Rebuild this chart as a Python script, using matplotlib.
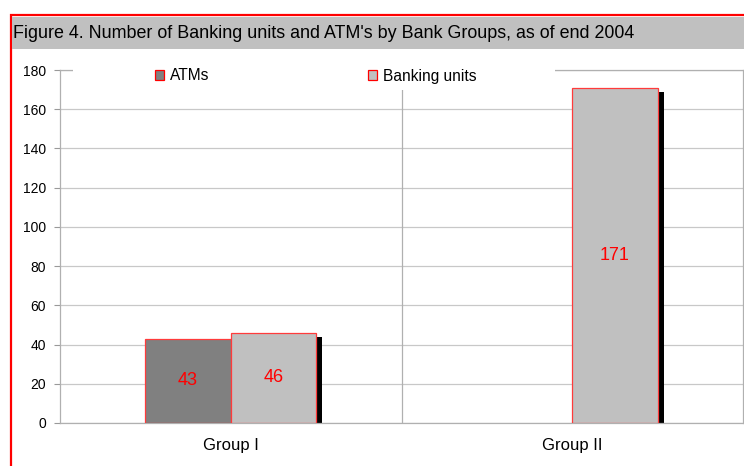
import matplotlib.pyplot as plt
import matplotlib.patches as mpatches
import numpy as np

plt.rcParams['font.family'] = ['Liberation Sans', 'DejaVu Sans']

# data
groups = ['Group I', 'Group II']
atms = [43, 0]
banking_units = [46, 171]
yticks = np.arange(0, 181, 20)

W, H = 744, 466
fig = plt.figure(figsize=(W / 100, H / 100), dpi=100)

# red outer frame and grey title band
fig.patches.append(mpatches.Rectangle((11 / W, -0.1), 1.2, (H - 15) / H + 0.1,
                                      transform=fig.transFigure, fill=False,
                                      edgecolor='#ff0000', linewidth=1.6))
fig.patches.append(mpatches.Rectangle((12 / W, (H - 49) / H), 1.0, 32 / H,
                                      transform=fig.transFigure, facecolor='#c0c0c0',
                                      edgecolor='none'))
fig.text(13 / W, (H - 33) / H, "Figure 4. Number of Banking units and ATM's by Bank Groups, as of end 2004",
         fontsize=12.9, va='center', ha='left', color='#000000')

ax = fig.add_axes([60 / W, (H - 423) / H, 683 / W, 353 / H])
x = np.arange(len(groups))
w = 0.25

ax.set_xlim(-0.5, len(groups) - 0.5)
ax.set_ylim(0, 180)

# drop shadows behind the bars
sdx, sdy = 0.0176, 2.3
ax.bar(x - w / 2 + sdx, np.maximum(np.array(atms) - sdy, 0), w, color='black', zorder=2)
ax.bar(x + w / 2 + sdx, np.maximum(np.array(banking_units) - sdy, 0), w, color='black', zorder=2)

b1 = ax.bar(x - w / 2, atms, w, color='#808080', edgecolor='#ff3b3b', linewidth=0.9,
            label='ATMs', zorder=3)
b2 = ax.bar(x + w / 2, banking_units, w, color='#c0c0c0', edgecolor='#ff3b3b', linewidth=0.9,
            label='Banking units', zorder=3)

for bars, vals in [(b1, atms), (b2, banking_units)]:
    for r, v in zip(bars, vals):
        if v > 0:
            ax.text(r.get_x() + r.get_width() / 2, v / 2, str(v), ha='center', va='center',
                    color='#ff0000', fontsize=13, zorder=5)
        else:
            r.set_visible(False)

ax.set_yticks(yticks)
ax.tick_params(axis='y', length=4, width=0.8, color='#999999', pad=6, labelsize=10)
ax.set_xticks(x)
ax.set_xticklabels(groups, fontsize=12)
ax.tick_params(axis='x', length=0, pad=11)
ax.yaxis.grid(True, color='#c8c8c8', linewidth=0.9)
ax.axvline(0.5, color='#b0b0b0', linewidth=0.9, zorder=1)
ax.set_axisbelow(True)
for s in ax.spines.values():
    s.set_color('#b0b0b0')
    s.set_linewidth(0.9)

# white legend area over the top of the plot
ax.add_patch(mpatches.Rectangle((13 / 683, 1 - 20 / 353), 482 / 683, 28 / 353,
                                transform=ax.transAxes, facecolor='white', edgecolor='none',
                                zorder=6, clip_on=False))
h1 = mpatches.Patch(facecolor='#808080', edgecolor='#ff0000', linewidth=0.9)
h2 = mpatches.Patch(facecolor='#c0c0c0', edgecolor='#ff0000', linewidth=0.9)
leg = ax.legend([h1, h2], ['ATMs', 'Banking units'], ncol=2, frameon=False,
                loc='center left', bbox_to_anchor=(95 / 683, 1 - 6 / 353),
                handlelength=0.6, handleheight=0.6, handletextpad=0.35,
                columnspacing=10.2, fontsize=11.2, borderpad=0, borderaxespad=0)
leg.set_zorder(7)

fig.savefig('out.png', dpi=100)
